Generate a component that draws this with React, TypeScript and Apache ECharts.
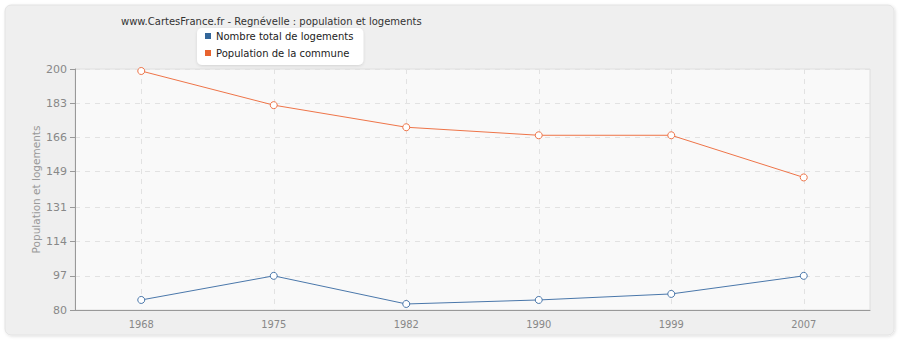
import React, { useEffect, useRef } from "react";
import * as echarts from "echarts";

const years = ["1968", "1975", "1982", "1990", "1999", "2007"];
const logements = [85, 97, 83, 85, 88, 97];
const population = [199, 182, 171, 167, 167, 146];
const yTicks = [80, 97, 114, 131, 149, 166, 183, 200];

const titleText = "www.CartesFrance.fr - Regnévelle : population et logements";
const nameLogements = "Nombre total de logements";
const namePopulation = "Population de la commune";
const yName = "Population et logements";

const FONT = "'DejaVu Sans', Verdana, sans-serif";

export default function App() {
  const ref = useRef<HTMLDivElement>(null);
  useEffect(() => {
    document.body.style.margin = "0";
    const chart = echarts.init(ref.current!, null, { renderer: "svg" });
    chart.setOption({
      animation: false,
      backgroundColor: "#ffffff",
      textStyle: { fontFamily: FONT },
      graphic: [
        {
          type: "rect",
          z: -10,
          shape: { x: 5, y: 5, width: 889, height: 330, r: 6 },
          style: {
            fill: "#efefef",
            stroke: "#e3e3e3",
            lineWidth: 1,
            shadowBlur: 3,
            shadowColor: "rgba(0,0,0,0.12)",
            shadowOffsetX: 1,
            shadowOffsetY: 1,
          },
        },
      ],
      title: {
        text: titleText,
        left: 116,
        top: 11,
        textStyle: { fontSize: 10, fontWeight: "normal", color: "#333", fontFamily: FONT },
      },
      legend: {
        orient: "vertical",
        left: 197,
        top: 28,
        padding: [3, 10, 7, 8],
        itemGap: 7,
        itemWidth: 6,
        itemHeight: 6,
        backgroundColor: "#ffffff",
        borderRadius: 5,
        shadowBlur: 3,
        shadowColor: "rgba(0,0,0,0.12)",
        shadowOffsetY: 1,
        textStyle: { fontSize: 10, color: "#222", fontFamily: FONT },
        data: [
          { name: nameLogements, icon: "rect", itemStyle: { color: "#336699", borderWidth: 0 } },
          { name: namePopulation, icon: "rect", itemStyle: { color: "#e8632e", borderWidth: 0 } },
        ],
      },
      grid: {
        left: 75,
        right: 30,
        top: 69,
        bottom: 30,
        show: true,
        backgroundColor: "#f9f9f9",
        borderColor: "#dedede",
        borderWidth: 1,
      },
      xAxis: {
        type: "category",
        data: years,
        boundaryGap: true,
        axisLine: { lineStyle: { color: "#999", width: 1 } },
        axisTick: { alignWithLabel: true, length: 5, lineStyle: { color: "#999" } },
        axisLabel: {
          color: "#888",
          fontSize: 11,
          margin: 9,
          fontFamily: "'DejaVu Sans Condensed', 'Liberation Sans Narrow', sans-serif",
        },
        splitLine: {
          show: true,
          alignWithLabel: true,
          lineStyle: { color: "#e2e2e2", type: [5, 5] },
        },
      },
      yAxis: {
        type: "value",
        min: 80,
        max: 200,
        name: yName,
        nameLocation: "middle",
        nameGap: 34,
        nameMoveOverlap: false,
        nameTextStyle: { color: "#999", fontSize: 10.5, fontFamily: FONT },
        axisLine: { show: true, lineStyle: { color: "#999", width: 1 } },
        axisTick: { show: true, length: 5, lineStyle: { color: "#999" }, customValues: yTicks },
        axisLabel: {
          color: "#888",
          fontSize: 11,
          margin: 8,
          customValues: yTicks,
          formatter: (v: number) => String(Math.round(v)),
        },
        splitLine: { show: true, lineStyle: { color: "#e2e2e2", type: [5, 5] } },
      },
      series: [
        {
          name: nameLogements,
          type: "line",
          data: logements,
          symbol: "circle",
          symbolSize: 7,
          color: "#4a77aa",
          lineStyle: { width: 1, color: "#4a77aa" },
          itemStyle: { color: "#ffffff", borderColor: "#4a77aa", borderWidth: 1 },
        },
        {
          name: namePopulation,
          type: "line",
          data: population,
          symbol: "circle",
          symbolSize: 7,
          color: "#ee7448",
          lineStyle: { width: 1, color: "#ee7448" },
          itemStyle: { color: "#ffffff", borderColor: "#ee7448", borderWidth: 1 },
        },
      ],
    });
    return () => chart.dispose();
  }, []);
  return <div ref={ref} style={{ width: 900, height: 340 }} />;
}
